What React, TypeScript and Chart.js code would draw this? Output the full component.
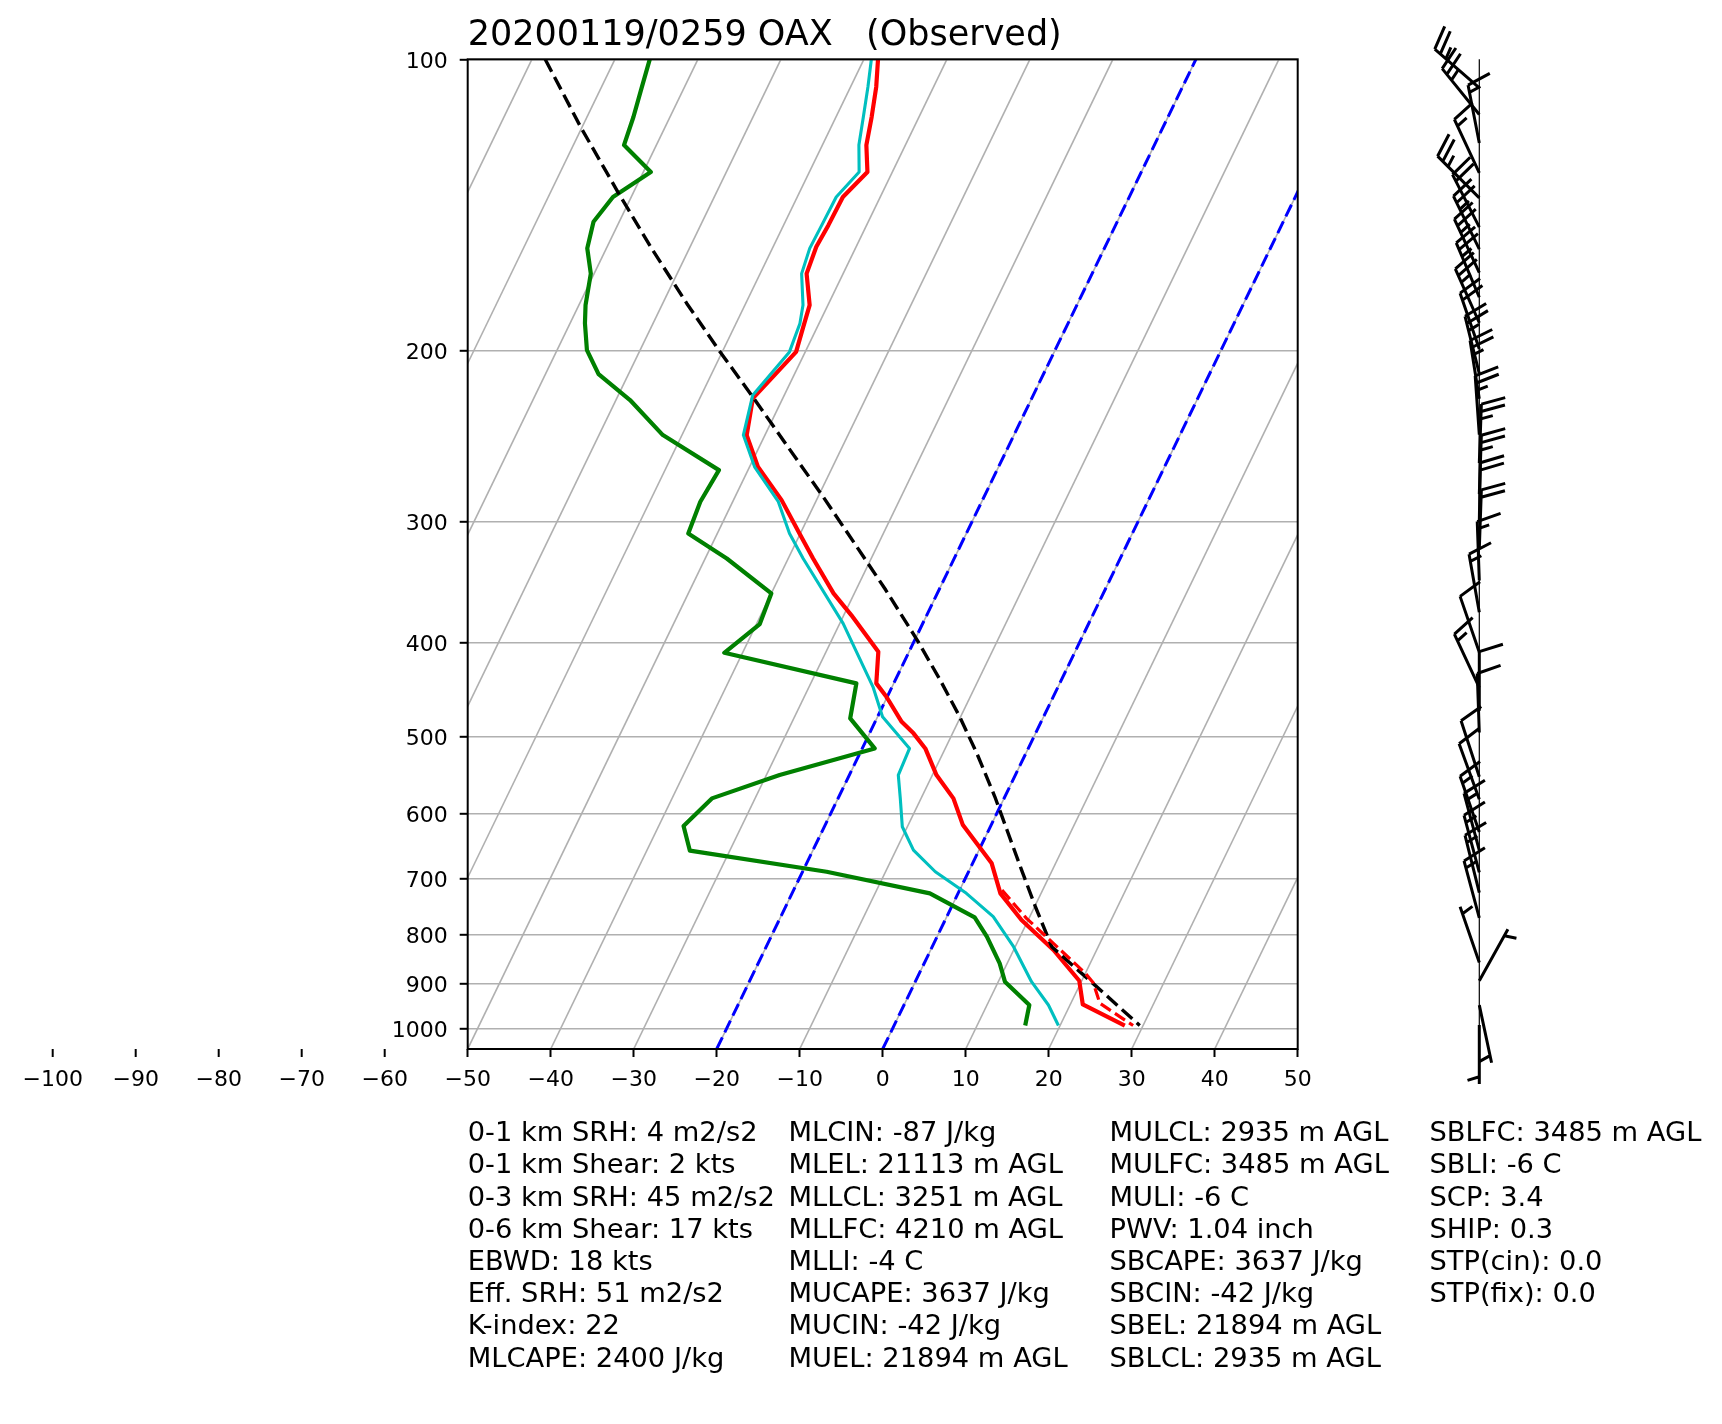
import React, { useEffect, useRef } from 'react';
import { Chart, registerables } from 'chart.js';

Chart.register(...registerables);

const FONT = 'DejaVu Sans';

// Axis limits
const P_BOTTOM = 1050;
const P_TOP = 100;
const T_LEFT = -50;
const T_RIGHT = 50;
const SKEW_ANGLE = 30;

// Ticks
const PRESSURE_TICKS = [100, 200, 300, 400, 500, 600, 700, 800, 900, 1000];
const OFFAXIS_TEMP_TICKS = [-100, -90, -80, -70, -60];
const ISOTHERMS = [-100, -90, -80, -70, -60, -50, -40, -30, -20, -10, 0, 10, 20, 30, 40, 50];
const MARKED_ISOTHERMS = [-20, 0];

// Temperature (red)
const TEMP_P = [100, 106.8, 114.7, 122.6, 130.7, 138.7, 148.3, 156.1, 166.4, 179.3, 188.8, 200.4, 223.8, 244.2, 263.3, 285, 308.5, 327.4, 355.7, 374.5, 408.6, 440.5, 454.7, 482.6, 496, 514.1, 547.7, 578.9, 616.8, 675.5, 725.4, 772.9, 829.9, 892.8, 944.3, 993];
const TEMP_C = [-58.3, -56.9, -55.7, -54.7, -53.0, -54.5, -54.6, -54.8, -54.4, -52.2, -51.7, -51.1, -53.6, -52.2, -49.0, -44.2, -40.1, -37.0, -32.5, -29.1, -23.7, -22.1, -20.1, -16.8, -14.7, -12.4, -9.5, -6.1, -3.4, 2.3, 5.1, 9.2, 14.8, 19.7, 21.5, 27.8];

// Dewpoint (green)
const DEW_P = [100, 107.2, 114.7, 122.6, 130.7, 138.7, 147.1, 156.7, 166.4, 179.3, 187.3, 199.6, 211.3, 224.7, 244.2, 265.4, 286.1, 308.5, 327.4, 355.7, 382.6, 409.6, 440.5, 478.7, 514.1, 547.7, 578.9, 618.2, 655.5, 689.1, 725.4, 768, 804.1, 856.7, 894.8, 945.8, 993];
const DEW_C = [-85.8, -85.1, -84.4, -83.9, -79.1, -82.2, -83.1, -82.3, -80.4, -79.2, -78.2, -76.4, -73.6, -68.3, -62.3, -53.5, -53.9, -53.5, -47.4, -40.0, -39.6, -42.2, -24.5, -23.2, -18.5, -28.4, -35.2, -37.0, -34.8, -17.1, -3.4, 3.4, 6.0, 9.1, 10.8, 15.1, 15.8];

// Wet-bulb (cyan)
const WET_P = [100, 106.8, 114.7, 122.6, 130.7, 138.7, 148.3, 156.7, 166.4, 179.3, 187.3, 200.4, 222.1, 244.2, 263.3, 286.1, 308.5, 327.4, 382, 444.1, 476.9, 514.1, 547.7, 578.9, 619.3, 654.5, 689.1, 725.4, 766.8, 823.5, 894.8, 945.8, 993];
const WET_C = [-59.1, -57.9, -56.7, -55.6, -54.0, -55.3, -55.4, -55.5, -55.0, -53.0, -52.3, -51.9, -53.8, -52.6, -49.4, -44.5, -41.3, -38.2, -29.6, -22.3, -19.4, -14.3, -14.1, -12.5, -10.6, -7.9, -4.0, 1.0, 5.6, 9.8, 14.0, 17.4, 19.8];

// Parcel path (black dashed)
const PARCEL_P = [100, 110.7, 117.4, 138.1, 157.4, 178.6, 199.6, 223, 247.2, 282.7, 315.8, 352.9, 397.4, 437, 476.9, 520.2, 576.7, 624.1, 686.4, 748.9, 823.5, 898.4, 993];
const PARCEL_C = [-98.4, -93.2, -90.2, -81.5, -74.3, -67.1, -60.5, -53.7, -47.5, -39.4, -32.9, -26.4, -19.7, -14.6, -10.1, -5.9, -1.2, 2.2, 6.3, 10.1, 14.4, 21.5, 29.6];

// Virtual temperature (red dashed)
const VIRT_P = [719.8, 769.8, 816.9, 876, 897, 942, 993];
const VIRT_C = [5.1, 9.7, 14.4, 19.9, 21.5, 23.5, 28.8];

// Winds
const WIND_P = [107, 114, 122, 131, 139, 149, 157, 166, 176, 187, 199, 211, 224, 244, 261, 281, 300, 320, 345, 372, 409, 445, 470, 495, 550, 580, 627, 655, 690, 724, 769, 855, 893, 946, 992];
const WIND_DIR = [311, 321, 349, 335, 315, 333, 334, 335, 337, 336, 341, 346, 351, 356, 2, 2, 1, 2, 358, 350, 341, 335, 0, 358, 342, 340, 341, 345, 345, 346, 345, 341, 29, 168, 180];
const WIND_KT = [25, 25, 15, 15, 25, 20, 25, 25, 25, 25, 20, 25, 25, 25, 25, 25, 20, 20, 15, 15, 10, 15, 10, 10, 10, 10, 15, 15, 15, 15, 15, 5, 5, 5, 5];

// Text
const TITLE = '20200119/0259 OAX   (Observed)';
const STATS_COL_1 = ['0-1 km SRH: 4 m2/s2', '0-1 km Shear: 2 kts', '0-3 km SRH: 45 m2/s2', '0-6 km Shear: 17 kts', 'EBWD: 18 kts', 'Eff. SRH: 51 m2/s2', 'K-index: 22', 'MLCAPE: 2400 J/kg'];
const STATS_COL_2 = ['MLCIN: -87 J/kg', 'MLEL: 21113 m AGL', 'MLLCL: 3251 m AGL', 'MLLFC: 4210 m AGL', 'MLLI: -4 C', 'MUCAPE: 3637 J/kg', 'MUCIN: -42 J/kg', 'MUEL: 21894 m AGL'];
const STATS_COL_3 = ['MULCL: 2935 m AGL', 'MULFC: 3485 m AGL', 'MULI: -6 C', 'PWV: 1.04 inch', 'SBCAPE: 3637 J/kg', 'SBCIN: -42 J/kg', 'SBEL: 21894 m AGL', 'SBLCL: 2935 m AGL'];
const STATS_COL_4 = ['SBLFC: 3485 m AGL', 'SBLI: -6 C', 'SCP: 3.4', 'SHIP: 0.3', 'STP(cin): 0.0', 'STP(fix): 0.0'];

// ---- layout ----
const W = 1722;
const H = 1424;
const TICK_FONT = 22;
const TICK_LEN = 8;
const X_TICK_PAD = 10.5;
const Y_TICK_PAD = 12;
const Y_AXIS_W = 90;
const X_AXIS_H = 60;
const BARB_OFFSET = 181.6; // barb column distance right of plot
const BARB_LEN = 59;

const SKEW = (T_RIGHT - T_LEFT) * Math.tan((SKEW_ANGLE * Math.PI) / 180);
function skewX(t: number, p: number) {
  return t + (SKEW * Math.log(P_BOTTOM / p)) / Math.log(P_BOTTOM / P_TOP);
}
function profile(ps: number[], ts: number[]) {
  return ps.map((p, i) => ({ x: skewX(ts[i], p), y: p }));
}
function fmtT(v: number) {
  return v < 0 ? '\u2212' + Math.abs(v) : String(v);
}

function drawBarb(ctx: CanvasRenderingContext2D, bx: number, by: number, dir: number, spd: number, L: number) {
  const r = (dir * Math.PI) / 180;
  const ux = Math.sin(r);
  const uy = -Math.cos(r);
  const px = Math.cos(r);
  const py = Math.sin(r);
  let s = Math.round(spd / 5) * 5;
  const nFlag = Math.floor(s / 50);
  s -= nFlag * 50;
  const nFull = Math.floor(s / 10);
  s -= nFull * 10;
  const half = s >= 5;
  const hgt = 0.4 * L;
  const wid = 0.25 * L;
  const sp = 0.125 * L;
  ctx.beginPath();
  ctx.moveTo(bx, by);
  ctx.lineTo(bx + L * ux, by + L * uy);
  let off = L;
  for (let i = 0; i < nFlag; i++) {
    const sx = bx + off * ux, sy = by + off * uy;
    ctx.moveTo(sx, sy);
    ctx.lineTo(sx + hgt * px - (wid / 2) * ux, sy + hgt * py - (wid / 2) * uy);
    ctx.lineTo(sx - wid * ux, sy - wid * uy);
    off -= wid + sp;
  }
  for (let i = 0; i < nFull; i++) {
    const sx = bx + off * ux, sy = by + off * uy;
    ctx.moveTo(sx, sy);
    ctx.lineTo(sx + hgt * px + (wid / 2) * ux, sy + hgt * py + (wid / 2) * uy);
    off -= sp;
  }
  if (half) {
    if (nFull === 0 && nFlag === 0) off -= sp;
    const sx = bx + off * ux, sy = by + off * uy;
    ctx.moveTo(sx, sy);
    ctx.lineTo(sx + (hgt / 2) * px + (wid / 4) * ux, sy + (hgt / 2) * py + (wid / 4) * uy);
  }
  ctx.stroke();
}

const framePlugin = {
  id: 'skewFrame',
  afterDatasetsDraw(chart: any) {
    const { ctx, chartArea } = chart;
    ctx.save();
    ctx.strokeStyle = '#000';
    ctx.lineWidth = 2;
    ctx.strokeRect(chartArea.left, chartArea.top, chartArea.right - chartArea.left, chartArea.bottom - chartArea.top);
    ctx.restore();
  },
};

const extraTicksPlugin = {
  id: 'extraTicks',
  afterDraw(chart: any) {
    const { ctx } = chart;
    const xs = chart.scales.x;
    ctx.save();
    ctx.strokeStyle = '#000';
    ctx.lineWidth = 2;
    ctx.fillStyle = '#000';
    ctx.font = `${TICK_FONT}px "${FONT}"`;
    ctx.textAlign = 'center';
    ctx.textBaseline = 'middle';
    const top = xs.top;
    OFFAXIS_TEMP_TICKS.forEach((v) => {
      const x = xs.getPixelForValue(v);
      ctx.beginPath();
      ctx.moveTo(x, top);
      ctx.lineTo(x, top + TICK_LEN);
      ctx.stroke();
      ctx.fillText(fmtT(v), x, top + TICK_LEN + X_TICK_PAD + (TICK_FONT * 1.2) / 2);
    });
    ctx.restore();
  },
};

const barbPlugin = {
  id: 'windBarbs',
  afterDraw(chart: any) {
    const { ctx, chartArea } = chart;
    const ys = chart.scales.y;
    const bx = chartArea.right + BARB_OFFSET;
    ctx.save();
    ctx.strokeStyle = '#000';
    ctx.lineWidth = 1.2;
    ctx.beginPath();
    ctx.moveTo(bx, chartArea.top);
    ctx.lineTo(bx, chartArea.bottom);
    ctx.stroke();
    ctx.lineWidth = 3;
    ctx.lineCap = 'butt';
    ctx.lineJoin = 'miter';
    WIND_P.forEach((p, i) => {
      drawBarb(ctx, bx, ys.getPixelForValue(p), WIND_DIR[i], WIND_KT[i], BARB_LEN);
    });
    ctx.restore();
  },
};

export default function App() {
  const canvasRef = useRef<HTMLCanvasElement | null>(null);

  useEffect(() => {
    document.body.style.margin = '0';
    document.body.style.overflow = 'hidden';
    const canvas = canvasRef.current;
    if (!canvas) return;

    const lineBase = { showLine: true, pointRadius: 0, pointHoverRadius: 0, fill: false, tension: 0, borderJoinStyle: 'round' as const };

    const datasets: any[] = [
      ...ISOTHERMS.map((t) => ({
        ...lineBase,
        label: `iso${t}`,
        data: [
          { x: skewX(t, P_BOTTOM), y: P_BOTTOM },
          { x: skewX(t, P_TOP), y: P_TOP },
        ],
        borderColor: '#b0b0b0',
        borderWidth: 1.6,
        order: 20,
      })),
      ...MARKED_ISOTHERMS.map((t) => ({
        ...lineBase,
        label: `mark${t}`,
        data: [
          { x: skewX(t, P_BOTTOM), y: P_BOTTOM },
          { x: skewX(t, P_TOP), y: P_TOP },
        ],
        borderColor: '#0000ff',
        borderWidth: 3,
        borderDash: [13, 5.5],
        order: 15,
      })),
      { ...lineBase, label: 'T', data: profile(TEMP_P, TEMP_C), borderColor: '#ff0000', borderWidth: 4.2, order: 8 },
      { ...lineBase, label: 'Td', data: profile(DEW_P, DEW_C), borderColor: '#008000', borderWidth: 4.2, order: 7 },
      { ...lineBase, label: 'Tw', data: profile(WET_P, WET_C), borderColor: '#00bfbf', borderWidth: 3.1, order: 6 },
      { ...lineBase, label: 'Parcel', data: profile(PARCEL_P, PARCEL_C), borderColor: '#000000', borderWidth: 3.4, borderDash: [14, 6], order: 5 },
      { ...lineBase, label: 'Tv', data: profile(VIRT_P, VIRT_C), borderColor: '#ff0000', borderWidth: 3.2, borderDash: [12, 5], order: 4 },
    ];

    const chart = new Chart(canvas, {
      type: 'scatter',
      data: { datasets },
      plugins: [framePlugin, extraTicksPlugin, barbPlugin],
      options: {
        animation: false,
        responsive: false,
        maintainAspectRatio: false,
        devicePixelRatio: 1,
        events: [],
        layout: { padding: { left: 467.7 - Y_AXIS_W, right: 424.3, top: 59.3, bottom: H - 1049 - X_AXIS_H } },
        plugins: { legend: { display: false }, tooltip: { enabled: false }, title: { display: false } },
        scales: {
          x: {
            type: 'linear',
            position: 'bottom',
            min: T_LEFT,
            max: T_RIGHT,
            afterFit: (s: any) => {
              s.height = X_AXIS_H;
            },
            border: { display: false },
            grid: { drawOnChartArea: false, drawTicks: true, tickLength: TICK_LEN, tickColor: '#000', tickWidth: 2 },
            ticks: {
              stepSize: 10,
              autoSkip: false,
              maxRotation: 0,
              padding: X_TICK_PAD,
              color: '#000',
              font: { family: FONT, size: TICK_FONT },
              callback: (v: any) => fmtT(Number(v)),
            },
          },
          y: {
            type: 'logarithmic',
            position: 'left',
            reverse: true,
            min: P_TOP,
            max: P_BOTTOM,
            afterFit: (s: any) => {
              s.width = Y_AXIS_W;
            },
            afterBuildTicks: (s: any) => {
              s.ticks = PRESSURE_TICKS.map((v) => ({ value: v }));
            },
            border: { display: false },
            grid: { color: '#b0b0b0', lineWidth: 1.6, drawTicks: true, tickLength: TICK_LEN, tickColor: '#000', tickWidth: 2 },
            ticks: {
              autoSkip: false,
              padding: Y_TICK_PAD,
              labelOffset: 2.5,
              color: '#000',
              font: { family: FONT, size: TICK_FONT },
              callback: (v: any) => String(v),
            },
          },
        },
      } as any,
    });
    return () => chart.destroy();
  }, []);

  const statsCols = [STATS_COL_1, STATS_COL_2, STATS_COL_3, STATS_COL_4];
  const statsX = [467.7, 788.5, 1109.5, 1429.5];

  return (
    <div style={{ position: 'relative', width: W, height: H, background: '#fff', overflow: 'hidden' }}>
      <canvas ref={canvasRef} width={W} height={H} style={{ position: 'absolute', left: 0, top: 0, width: W, height: H, display: 'block' }} />
      <div
        style={{
          position: 'absolute',
          left: 467.7,
          top: 15.5,
          fontFamily: FONT,
          fontSize: 35,
          lineHeight: 1,
          whiteSpace: 'pre',
          color: '#000',
        }}
      >
        {TITLE}
      </div>
      {statsCols.map((col, i) => (
        <div
          key={i}
          style={{
            position: 'absolute',
            left: statsX[i],
            top: 1116.2,
            fontFamily: FONT,
            fontSize: 27.3,
            lineHeight: '32.2px',
            whiteSpace: 'pre',
            color: '#000',
          }}
        >
          {col.map((line, j) => (
            <div key={j}>{line}</div>
          ))}
        </div>
      ))}
    </div>
  );
}
